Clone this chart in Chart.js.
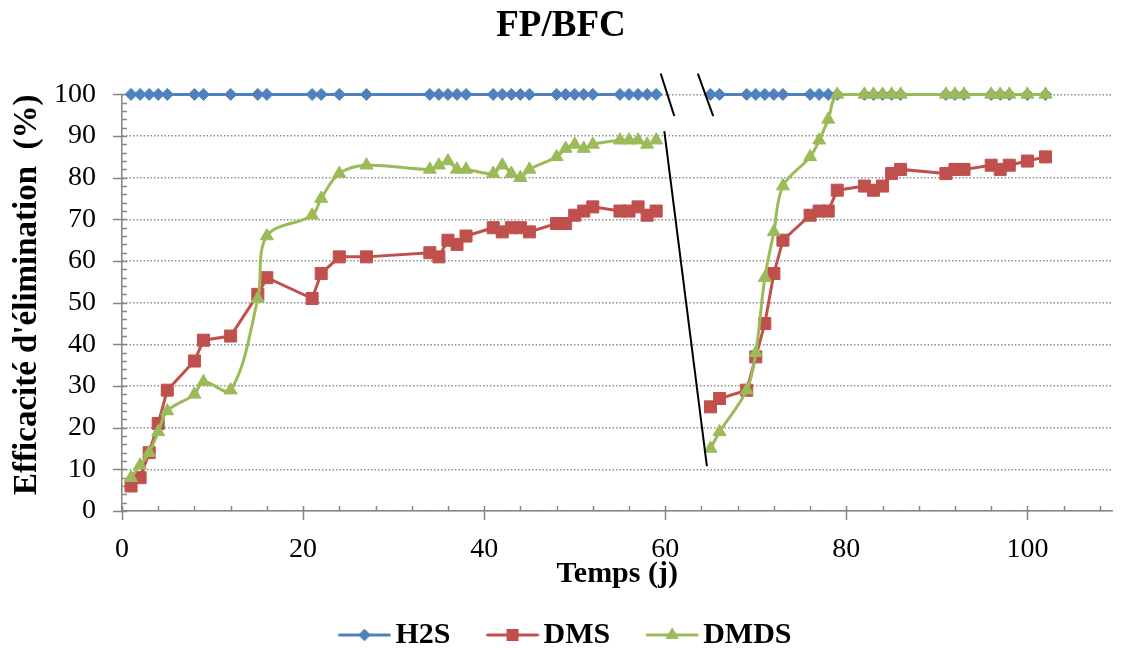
<!DOCTYPE html>
<html>
<head>
<meta charset="utf-8">
<script src="https://cdn.jsdelivr.net/npm/chart.js@4.4.1/dist/chart.umd.min.js"></script>
<style>
  html, body { margin: 0; padding: 0; background: #fff; }
  #wrap { width: 1122px; height: 648px; }
</style>
</head>
<body>
<div id="wrap"><canvas id="myChart"></canvas></div>
<script>
// sampling days (62 = break between the two runs, no measure)
var days = [1, 2, 3, 4, 5, 8, 9, 12, 15, 16, 21, 22, 24, 27, 34, 35, 36, 37, 38, 41, 42, 43, 44, 45, 48, 49, 50, 51, 52, 55, 56, 57, 58, 59,
    62,
    65, 66, 69, 70, 71, 72, 73, 76, 77, 78, 79, 82, 83, 84, 85, 86, 91, 92, 93, 96, 97, 98, 100, 102];

var h2s = [100, 100, 100, 100, 100, 100, 100, 100, 100, 100, 100, 100, 100, 100, 100, 100, 100, 100, 100, 100, 100, 100, 100, 100, 100, 100, 100, 100, 100, 100, 100, 100, 100, 100,
    null,
    100, 100, 100, 100, 100, 100, 100, 100, 100, 100, 100, 100, 100, 100, 100, 100, 100, 100, 100, 100, 100, 100, 100, 100];

var dms = [6, 8, 14, 21, 29, 36, 41, 42, 52, 56, 51, 57, 61, 61, 62, 61, 65, 64, 66, 68, 67, 68, 68, 67, 69, 69, 71, 72, 73, 72, 72, 73, 71, 72,
    null,
    25, 27, 29, 37, 45, 57, 65, 71, 72, 72, 77, 78, 77, 78, 81, 82, 81, 82, 82, 83, 82, 83, 84, 85];

var dmds = [8, 11, 14, 19, 24, 28, 31, 29, 51, 66, 71, 75, 81, 83, 82, 83, 84, 82, 82, 81, 83, 81, 80, 82, 85, 87, 88, 87, 88, 89, 89, 89, 88, 89,
    null,
    15, 19, 29, 38, 56, 67, 78, 85, 89, 94, 100, 100, 100, 100, 100, 100, 100, 100, 100, 100, 100, 100, 100, 100];

// axis break marks (day, %)
var breakSlash1 = [{ x: 59.5, y: 105 }, { x: 61.0, y: 94.8 }];
var breakSlash2 = [{ x: 63.6, y: 105 }, { x: 65.3, y: 94.8 }];
var breakLink = [{ x: 59.9, y: 91.2 }, { x: 64.6, y: 10.8 }];

var serif = "'Liberation Serif', 'Times New Roman', serif";

function pts(vals) {
    return days.map(function (d, i) { return { x: d, y: vals[i] }; });
}

// legend symbol: line with marker in the middle (transparent margin on the left for spacing)
function legendIcon(color, style, r) {
    var left = 18;
    var c = document.createElement('canvas');
    c.width = 54 + left; c.height = 20;
    var g = c.getContext('2d');
    g.strokeStyle = color; g.lineWidth = 3; g.lineCap = 'round';
    g.beginPath(); g.moveTo(left + 2, 10); g.lineTo(left + 52, 10); g.stroke();
    g.fillStyle = color;
    Chart.helpers.drawPoint(g, { pointStyle: style, radius: r, borderWidth: 0 }, left + 27, 10);
    g.fill();
    return c;
}

// minor / major tick marks like the original
const tickMarks = {
    id: 'tickMarks',
    beforeDatasetsDraw(chart) {
        const { ctx, chartArea, scales: { x, y } } = chart;
        ctx.save();
        ctx.strokeStyle = '#868686';
        ctx.lineWidth = 1.5;
        ctx.beginPath();
        for (let v = 0; v <= x.max; v += 4) {
            const px = Math.round(x.getPixelForValue(v)) + 0.5;
            const major = v % 20 === 0;
            ctx.moveTo(px, chartArea.bottom - 5);
            ctx.lineTo(px, chartArea.bottom + (major ? 9 : 0));
        }
        for (let v = 0; v <= 100; v += 2) {
            const py = Math.round(y.getPixelForValue(v)) + 0.5;
            const major = v % 10 === 0;
            ctx.moveTo(chartArea.left - (major ? 9 : 0), py);
            ctx.lineTo(chartArea.left + 5, py);
        }
        ctx.stroke();
        ctx.restore();
    }
};

// shrink the legend box so the items sit lower
const legendShift = {
    id: 'legendShift',
    beforeInit(chart) {
        const fit = chart.legend.fit;
        chart.legend.fit = function () {
            fit.bind(chart.legend)();
            this.height -= 12;
        };
    }
};

const config = {
    type: 'line',
    data: {
        datasets: [
            {
                label: 'H2S',
                data: pts(h2s),
                borderColor: '#4F81BD',
                backgroundColor: '#4F81BD',
                borderWidth: 3,
                pointStyle: 'rectRot',
                pointRadius: 6,
                pointBorderWidth: 1,
                tension: 0,
                clip: false,
                order: 3
            },
            {
                label: 'DMS',
                data: pts(dms),
                borderColor: '#C0504D',
                backgroundColor: '#C0504D',
                borderWidth: 3,
                pointStyle: 'rect',
                pointRadius: 8.5,
                pointBorderWidth: 1,
                tension: 0,
                clip: false,
                order: 2
            },
            {
                label: 'DMDS',
                data: pts(dmds),
                borderColor: '#9BBB59',
                backgroundColor: '#9BBB59',
                borderWidth: 3,
                pointStyle: 'triangle',
                pointRadius: 7.5,
                pointBorderWidth: 1,
                tension: 0.35,
                clip: false,
                order: 1
            },
            { label: '_b1', data: breakSlash1, borderColor: '#000', borderWidth: 2, pointRadius: 0, clip: false, order: 0 },
            { label: '_b2', data: breakSlash2, borderColor: '#000', borderWidth: 2, pointRadius: 0, clip: false, order: 0 },
            { label: '_b3', data: breakLink, borderColor: '#000', borderWidth: 2, pointRadius: 0, clip: false, order: 0 }
        ]
    },
    options: {
        responsive: true, maintainAspectRatio: false,
        animation: false,
        spanGaps: false,
        layout: { padding: 0 },
        scales: {
            x: {
                type: 'linear',
                min: 0,
                max: 109.4,
                afterFit: function (scale) { scale.height = 81; },
                border: { display: true, color: '#868686', width: 1.5 },
                grid: { drawOnChartArea: false, drawTicks: true, tickLength: 22, color: 'rgba(0,0,0,0)' },
                ticks: {
                    stepSize: 20,
                    includeBounds: false,
                    padding: 0,
                    autoSkip: false,
                    maxRotation: 0,
                    color: '#000',
                    font: { family: serif, size: 28 }
                },
                title: {
                    display: true,
                    text: 'Temps (j)',
                    color: '#000',
                    font: { family: serif, size: 30, weight: 'bold' },
                    padding: { top: 0, bottom: 0 }
                }
            },
            y: {
                min: 0,
                max: 100,
                afterFit: function (scale) { scale.width = 122; },
                border: { display: true, color: '#868686', width: 1.5, dash: [1.5, 2] },
                grid: {
                    drawTicks: false,
                    color: '#8f8f8f',
                    lineWidth: 1.5
                },
                ticks: {
                    stepSize: 10,
                    padding: 26,
                    color: '#000',
                    font: { family: serif, size: 28 }
                },
                title: {
                    display: true,
                    align: 'end',
                    text: "Efficacité d'élimination  (%)",
                    color: '#000',
                    font: { family: serif, size: 33, weight: 'bold' },
                    padding: { top: 8, bottom: 0 }
                }
            }
        },
        plugins: {
            title: {
                display: true,
                text: 'FP/BFC',
                color: '#000',
                font: { family: serif, size: 37, weight: 'bold' },
                padding: { top: 4, bottom: 46 }
            },
            legend: {
                display: true,
                position: 'bottom',
                labels: {
                    usePointStyle: true,
                    pointStyleWidth: 50,
                    padding: 28,
                    color: '#000',
                    font: { family: serif, size: 30, weight: 'bold' },
                    generateLabels: function (chart) {
                        return chart.data.datasets.slice(0, 3).map(function (ds, i) {
                            return {
                                text: ds.label,
                                pointStyle: legendIcon(ds.borderColor, ds.pointStyle, ds.pointRadius),
                                fillStyle: ds.borderColor,
                                strokeStyle: ds.borderColor,
                                lineWidth: 0,
                                fontColor: '#000',
                                datasetIndex: i,
                                hidden: false
                            };
                        });
                    }
                }
            },
            tooltip: { enabled: false }
        }
    },
    plugins: [tickMarks, legendShift]
};

window.myLine = new Chart(document.getElementById('myChart'), config);
</script>
</body>
</html>
